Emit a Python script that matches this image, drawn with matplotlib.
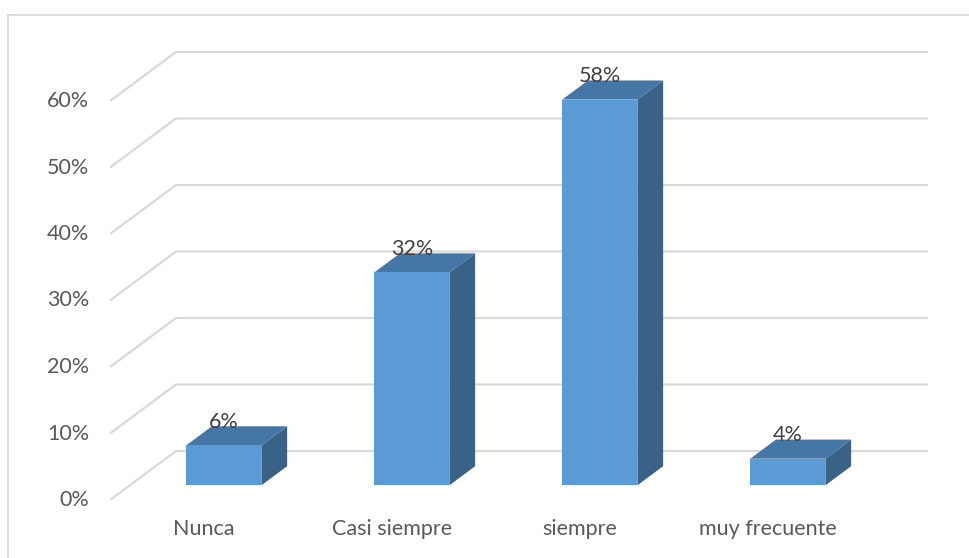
import matplotlib.pyplot as plt
from matplotlib.patches import Polygon
import numpy as np

categories = ['Nunca', 'Casi siempre', 'siempre', 'muy frecuente']
values = [6, 32, 58, 4]
ticks = [0, 10, 20, 30, 40, 50, 60]

# depth offset of the back wall (x in category units, y in percent)
DX = 0.351
DY = 7.37
# bar sits between these depth fractions
D0, D1 = 0.30, 0.69
BAR_W = 0.40

front_col = '#5B9BD5'
top_col = '#4577A6'
side_col = '#3A6287'
grid_col = '#D9D9D9'
text_col = '#595959'
FS = 15.5

plt.rcParams['font.family'] = ['Lato', 'DejaVu Sans']


def proj(x, y, d):
    return (x + d * DX, y + d * DY)


fig = plt.figure(figsize=(9.69, 5.58), dpi=100)
ax = fig.add_axes([110 / 969, 58 / 558, 818 / 969, 465.5 / 558])
ax.set_xlim(-0.5, 3.5 + DX)
ax.set_ylim(0, 70)
ax.axis('off')

# gridlines: slanted side part then the back wall part
for t in ticks:
    x0, y0 = proj(-0.5, t, 0)
    x1, y1 = proj(-0.5, t, 1)
    x2, y2 = proj(3.5, t, 1)
    ax.plot([x0, x1, x2], [y0, y1, y2], color=grid_col, lw=1.6,
            solid_capstyle='butt', zorder=1)
    ax.text(-0.5 - 0.11, t, f'{t}%', ha='right', va='center',
            fontsize=FS, color=text_col)

for i, (cat, v) in enumerate(zip(categories, values)):
    xl, xr = i - BAR_W / 2, i + BAR_W / 2
    front = [proj(xl, 0, D0), proj(xr, 0, D0), proj(xr, v, D0), proj(xl, v, D0)]
    top = [proj(xl, v, D0), proj(xr, v, D0), proj(xr, v, D1), proj(xl, v, D1)]
    side = [proj(xr, 0, D0), proj(xr, 0, D1), proj(xr, v, D1), proj(xr, v, D0)]
    ax.add_patch(Polygon(side, closed=True, facecolor=side_col, edgecolor='none', zorder=3))
    ax.add_patch(Polygon(top, closed=True, facecolor=top_col, edgecolor='none', zorder=3))
    ax.add_patch(Polygon(front, closed=True, facecolor=front_col, edgecolor='none', zorder=4))

    lx, ly = proj(i, v, D0)
    ax.annotate(f'{v}%', (lx, v + D1 * DY), xytext=(0, 3), textcoords='offset points',
                ha='center', va='center', fontsize=FS, color='#404040', zorder=5)
    ax.text(i, -4.4, cat, ha='center', va='center', fontsize=FS, color=text_col)

# chart area border (top and left edges)
fig.add_artist(plt.Line2D([8 / 969, 8 / 969], [0, 1 - 15 / 558], transform=fig.transFigure,
                          color='#D9D9D9', lw=1.3))
fig.add_artist(plt.Line2D([8 / 969, 1], [1 - 15 / 558, 1 - 15 / 558], transform=fig.transFigure,
                          color='#D9D9D9', lw=1.3))

fig.savefig('out.png', dpi=100)
